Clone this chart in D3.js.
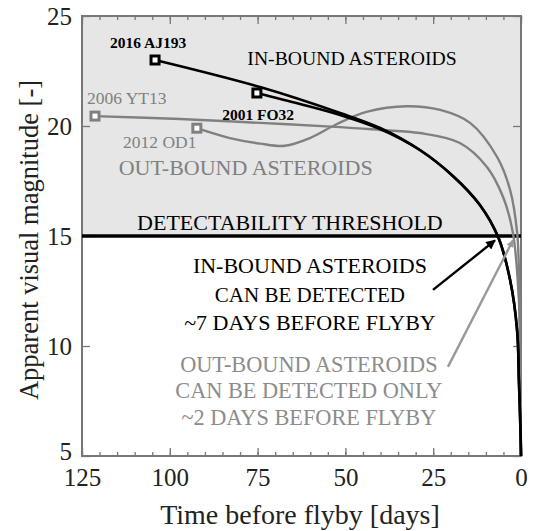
<!DOCTYPE html>
<html>
<head>
<meta charset="utf-8">
<script src="https://cdn.jsdelivr.net/npm/d3@7"></script>
<style>
  body { margin: 0; background: #fff; }
  text { font-family: "Liberation Serif", "Times New Roman", serif; }
</style>
</head>
<body>
<div id="chart-area"></div>
<script>
// days before flyby, apparent magnitude
var aj193 = [[104.2, 23.0], [74.3, 21.77], [51.5, 20.59], [40.1, 19.91], [28.8, 18.91],
             [19.4, 17.73], [11.7, 16.41], [6.5, 14.95], [3.1, 13.0], [1.1, 10.7],
             [0.6, 8.45], [0.15, 6.2], [0, 5]];
var fo32 = [[75.2, 21.5], [62.9, 21.0], [51.5, 20.5], [40.1, 19.86], [28.8, 18.91],
            [19.4, 17.73], [11.7, 16.41], [6.5, 14.95], [3.1, 13.0], [1.1, 10.7],
            [0.6, 8.45], [0.15, 6.2], [0, 5]];
var yt13 = [[121.3, 20.45], [97.1, 20.32], [74.3, 20.14], [51.5, 19.95], [40.1, 19.82],
            [28.8, 19.68], [17.4, 19.23], [9.7, 18.14], [5.1, 16.77], [2.3, 15.14],
            [0.6, 12.1], [0.2, 8.45], [0, 5]];
var od1 = [[92.3, 19.9], [82.9, 19.45], [74.3, 19.2], [67.2, 19.1], [60.1, 19.45],
           [52.4, 20.09], [44.0, 20.64], [32.5, 20.9], [23.0, 20.73], [14.5, 20.14],
           [6.8, 18.59], [3.1, 17.09], [1.1, 15.14], [0.43, 12.1], [0.14, 7.55], [0, 5]];

var threshold = 15;
var xTicks = [125, 100, 75, 50, 25, 0];
var yTicks = [5, 10, 15, 20, 25];

var series = [
    { name: "2016 AJ193", pts: aj193, color: "#000" },
    { name: "2001 FO32", pts: fo32, color: "#000" },
    { name: "2006 YT13", pts: yt13, color: "#808080" },
    { name: "2012 OD1", pts: od1, color: "#808080" }
];

var margin = { left: 82, right: 12, top: 16, bottom: 75 };
var width = 533 - margin.left - margin.right,
    height = 531 - margin.top - margin.bottom;

var svg = d3.select("#chart-area")
    .append("svg")
        .attr("width", 533)
        .attr("height", 531);
var g = svg.append("g")
        .attr("transform", "translate(" + margin.left + ", " + margin.top + ")");

var x = d3.scaleLinear().domain([125, 0]).range([0, width]);
var y = d3.scaleLinear().domain([5, 25]).range([height, 0]);

// shaded area above the threshold
g.append("rect")
    .attr("x", 0).attr("y", y(25))
    .attr("width", width).attr("height", y(threshold) - y(25))
    .attr("fill", "#e6e6e6");

// ticks (inside) on all four sides
var minor = d3.range(0, 126, 5);
function styleAxis(sel) {
    sel.attr("font-family", "Liberation Serif").attr("font-size", 25);
    sel.select(".domain").remove();
    sel.selectAll(".tick line").attr("stroke", "#777").attr("stroke-width", 1.3);
    sel.selectAll("text").attr("fill", "#222");
}
g.append("g").attr("transform", "translate(0," + height + ")")
    .call(d3.axisBottom(x).tickValues(minor).tickSize(-4).tickFormat(""))
    .call(styleAxis);
g.append("g").attr("transform", "translate(0," + height + ")")
    .call(d3.axisBottom(x).tickValues(xTicks).tickSize(-8).tickPadding(12).tickFormat(d3.format("d")))
    .call(styleAxis);
g.append("g")
    .call(d3.axisTop(x).tickValues(minor).tickSize(-4).tickFormat(""))
    .call(styleAxis);
g.append("g")
    .call(d3.axisTop(x).tickValues(xTicks).tickSize(-8).tickFormat(""))
    .call(styleAxis);
g.append("g")
    .call(d3.axisLeft(y).tickValues(yTicks).tickSize(-8).tickPadding(10).tickFormat(d3.format("d")))
    .call(styleAxis);
g.append("g").attr("transform", "translate(" + width + ",0)")
    .call(d3.axisRight(y).tickValues(yTicks).tickSize(-8).tickFormat(""))
    .call(styleAxis);

// the lowest y label sits a little higher so it clears "125"
g.selectAll(".tick text").filter(function(d){ return d === 5; })
    .attr("dy", "0.15em");

// frame
g.append("rect")
    .attr("width", width).attr("height", height)
    .attr("fill", "none").attr("stroke", "#777").attr("stroke-width", 2);

// threshold line
g.append("line")
    .attr("x1", 0).attr("x2", width)
    .attr("y1", y(threshold)).attr("y2", y(threshold))
    .attr("stroke", "#000").attr("stroke-width", 3.5);

var line = d3.line()
    .x(function(d){ return x(d[0]); })
    .y(function(d){ return y(d[1]); })
    .curve(d3.curveCatmullRom.alpha(0.5));

var grays = series.filter(function(s){ return s.color != "#000"; });
var blacks = series.filter(function(s){ return s.color == "#000"; });
grays.concat(blacks).forEach(function(s) {
    g.append("path")
        .attr("d", line(s.pts))
        .attr("fill", "none")
        .attr("stroke", s.color)
        .attr("stroke-width", s.color == "#000" ? 2.6 : 2.4);
});

// start markers
series.forEach(function(s) {
    var p = s.pts[0];
    g.append("rect")
        .attr("x", x(p[0]) - 4).attr("y", y(p[1]) - 4)
        .attr("width", 8).attr("height", 8)
        .attr("fill", "#fff")
        .attr("stroke", s.color).attr("stroke-width", 3);
});

// annotations: [day, mag, text, colour, size, anchor, weight]
var labels = [
    [117.0, 23.55, "2016 AJ193", "#000", 15.5, "start", "bold"],
    [85.1, 20.27, "2001 FO32", "#000", 15.5, "start", "bold"],
    [123.6, 21.0, "2006 YT13", "#808080", 17.5, "start", "normal"],
    [113.3, 19.0, "2012 OD1", "#808080", 17.5, "start", "normal"],
    [48.1, 22.77, "IN-BOUND ASTEROIDS", "#000", 19.7, "middle", "normal"],
    [78.4, 17.77, "OUT-BOUND ASTEROIDS", "#808080", 22, "middle", "normal"],
    [65.8, 15.27, "DETECTABILITY THRESHOLD", "#000", 22, "middle", "normal"],
    [60.1, 13.32, "IN-BOUND ASTEROIDS", "#000", 22, "middle", "normal"],
    [60.1, 12.0, "CAN BE DETECTED", "#000", 21, "middle", "normal"],
    [60.1, 10.73, "~7 DAYS BEFORE FLYBY", "#000", 22, "middle", "normal"],
    [60.4, 8.82, "OUT-BOUND ASTEROIDS", "#8c8c8c", 22.3, "middle", "normal"],
    [60.4, 7.64, "CAN BE DETECTED ONLY", "#8c8c8c", 22.3, "middle", "normal"],
    [60.4, 6.41, "~2 DAYS BEFORE FLYBY", "#8c8c8c", 22.3, "middle", "normal"]
];
labels.forEach(function(l) {
    g.append("text")
        .attr("x", x(l[0])).attr("y", y(l[1]))
        .attr("fill", l[3])
        .attr("font-size", l[4])
        .attr("font-weight", l[6])
        .attr("text-anchor", l[5])
        .text(l[2]);
});

// arrows: [from day, from mag, to day, to mag, colour]
var arrows = [
    [25.06, 12.55, 7.4, 14.8, "#000"],
    [20.8, 9.05, 2.3, 14.8, "#999"]
];
var defs = svg.append("defs");
arrows.forEach(function(a, i) {
    defs.append("marker")
        .attr("id", "head" + i)
        .attr("viewBox", "0 0 10 10")
        .attr("refX", 9).attr("refY", 5)
        .attr("markerWidth", i == 0 ? 5 : 3.5).attr("markerHeight", i == 0 ? 4 : 3)
        .attr("markerUnits", "strokeWidth")
        .attr("orient", "auto")
      .append("path")
        .attr("d", "M0,0 L10,5 L0,10 Z")
        .attr("fill", a[4]);
    g.append("line")
        .attr("x1", x(a[0])).attr("y1", y(a[1]))
        .attr("x2", x(a[2])).attr("y2", y(a[3]))
        .attr("stroke", a[4]).attr("stroke-width", 2.4)
        .attr("marker-end", "url(#head" + i + ")");
});

// axis titles
svg.append("text")
    .attr("x", 300).attr("y", 524)
    .attr("text-anchor", "middle")
    .attr("font-size", 28)
    .attr("fill", "#222")
    .text("Time before flyby [days]");
svg.append("text")
    .attr("transform", "translate(38," + (margin.top + height / 2 + 4) + ") rotate(-90)")
    .attr("text-anchor", "middle")
    .attr("font-size", 26.5)
    .attr("fill", "#222")
    .text("Apparent visual magnitude [-]");
</script>
</body>
</html>
